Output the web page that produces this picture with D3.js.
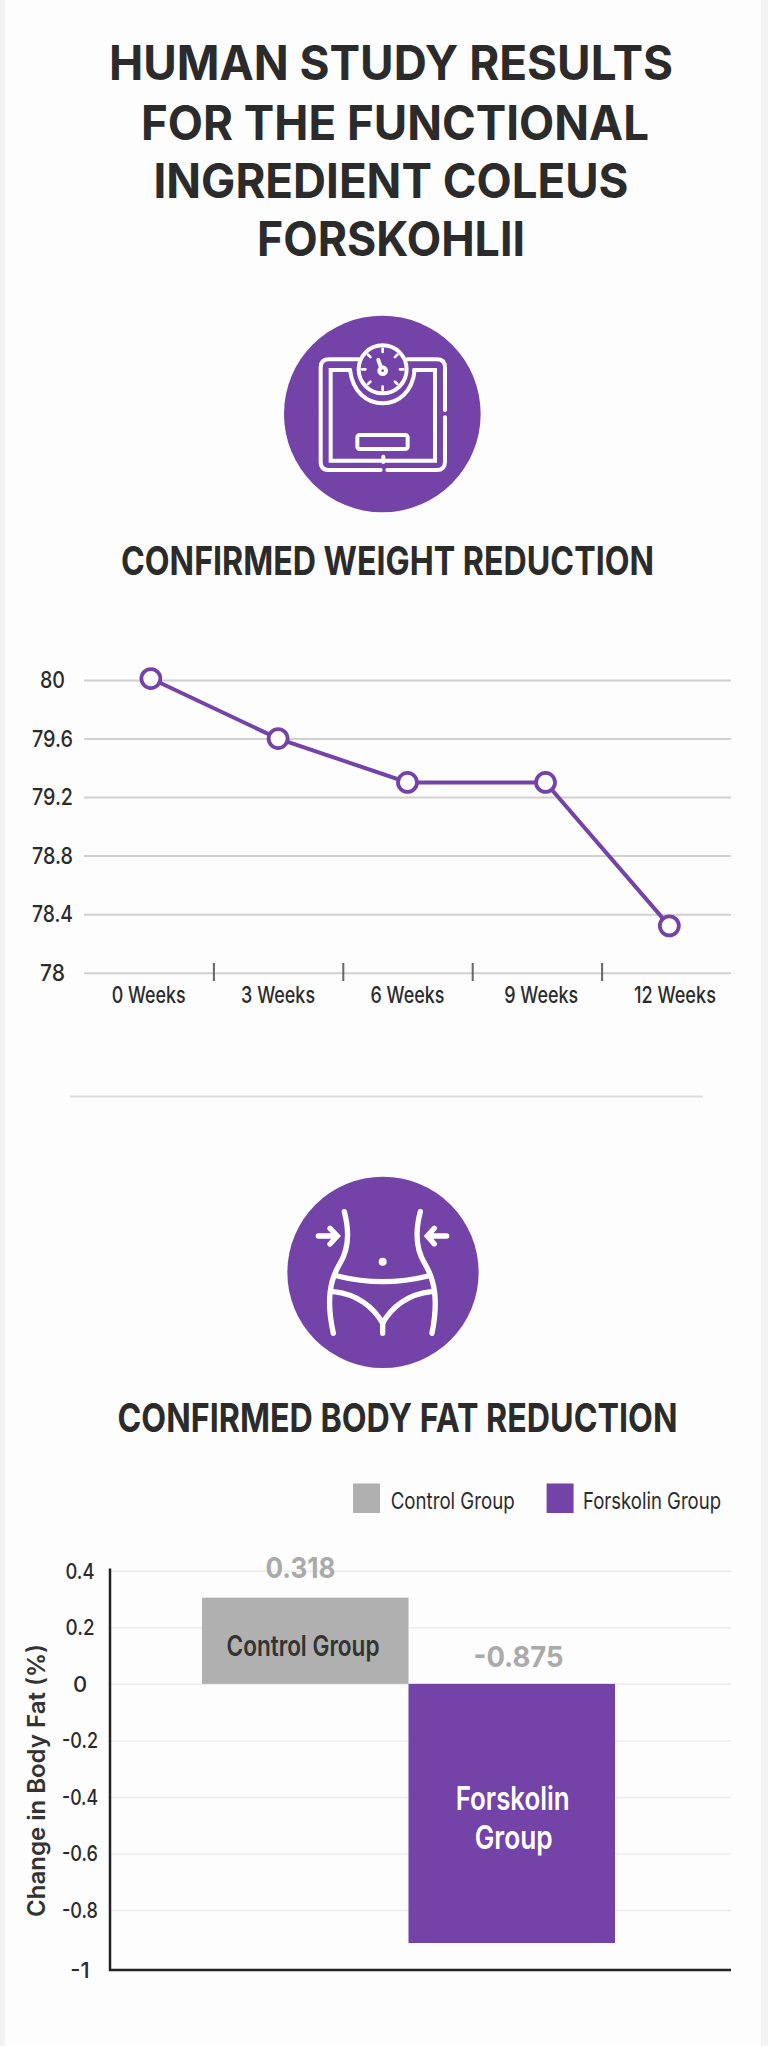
<!DOCTYPE html>
<html>
<head>
<meta charset="utf-8">
<title>Human study results</title>
<script src="https://cdn.jsdelivr.net/npm/d3@7"></script>
<style>
  html, body { margin: 0; padding: 0; background: #f3f3f3; }
  svg { display: block; font-family: Inter, "Noto Sans", sans-serif; }
</style>
</head>
<body>
<svg id="chart" width="768" height="2046"></svg>
<script>
const purple = "#7443a8";
const grey = "#b0b0b0";
const ink = "#2b2b2b";

// weight chart
const weekLabels = ["0 Weeks", "3 Weeks", "6 Weeks", "9 Weeks", "12 Weeks"];
const weekLabelPositions = [0, 3, 6, 9.1, 12.2];
const weekTicks = [1.5, 4.5, 7.5, 10.5];
const weekPoints = [0.05, 3, 6, 9.2, 12.07];
const weightValues = [80.01, 79.6, 79.3, 79.3, 78.32];
const weightTicks = [78, 78.4, 78.8, 79.2, 79.6, 80];

// body fat chart
const groups = ["Control Group", "Forskolin Group"];
const fatValues = [0.305, -0.91];
const fatLabels = ["0.318", "-0.875"];
const fatTicks = [-1, -0.8, -0.6, -0.4, -0.2, 0, 0.2, 0.4];
const groupColors = [grey, purple];

const titleLines = ["HUMAN STUDY RESULTS", "FOR THE FUNCTIONAL", "INGREDIENT COLEUS", "FORSKOHLII"];
const titleCenters = [391, 395, 391, 391];
const titleBaselines = [80, 140, 198, 256];
const titleWidths = [564, 508, 475, 268];

const svg = d3.select("#chart");

svg.append("rect")
  .attr("x", 5).attr("y", 0)
  .attr("width", 756).attr("height", 2046)
  .attr("fill", "#fdfdfd");

// text squeezed to a measured width, the picture's lettering is narrower than Inter
function label(parent, str, x, y, size, weight, color, width) {
  const t = parent.append("text")
    .attr("x", x).attr("y", y)
    .attr("text-anchor", "middle")
    .attr("font-size", size)
    .attr("font-weight", weight)
    .attr("fill", color)
    .text(str);
  if (width) t.attr("textLength", width).attr("lengthAdjust", "spacingAndGlyphs");
  return t;
}

titleLines.forEach((line, i) => {
  label(svg, line, titleCenters[i], titleBaselines[i], 48, 700, ink, titleWidths[i]);
});
label(svg, "CONFIRMED WEIGHT REDUCTION", 387.5, 575, 40, 700, ink, 533);
label(svg, "CONFIRMED BODY FAT REDUCTION", 397.5, 1431.5, 40, 700, ink, 560);

// scale icon, drawn in 3x crop units
const scaleIcon = svg.append("g").attr("transform", "translate(270,310) scale(0.3333)");
scaleIcon.append("circle").attr("cx", 337).attr("cy", 312).attr("r", 295).attr("fill", purple);
const scaleLines = scaleIcon.append("g")
  .attr("fill", "none").attr("stroke", "#fff").attr("stroke-width", 12).attr("stroke-linecap", "round");
scaleLines.append("path").attr("d", "M525,300 V172 Q525,148 500,148 H412 M266,148 H178 Q152,148 152,172 V455 Q152,480 178,480 H332 M352,480 H500 Q525,480 525,455 V322");
scaleLines.append("path").attr("d", "M240,180 H182 V452 H495 V180 H432");
scaleLines.append("path").attr("d", "M240,180 C248,245 290,280 338,280 C386,280 428,245 434,180");
scaleLines.append("circle").attr("cx", 338).attr("cy", 178).attr("r", 72);
scaleLines.append("circle").attr("cx", 338).attr("cy", 182).attr("r", 10);
scaleLines.append("path").attr("d", "M333,172 L325,150");
scaleLines.append("rect").attr("x", 262).attr("y", 375).attr("width", 151).attr("height", 42).attr("rx", 7);
scaleLines.append("path").attr("d", "M340,440 V456");
d3.range(8).forEach(i => {
  const a = i * Math.PI / 4;
  scaleLines.append("line")
    .attr("x1", 338 + 52 * Math.cos(a)).attr("y1", 178 + 52 * Math.sin(a))
    .attr("x2", 338 + 62 * Math.cos(a)).attr("y2", 178 + 62 * Math.sin(a))
    .attr("stroke-width", 8);
});

// weight line chart
const xWeek = d3.scaleLinear().domain([-1.5, 13.5]).range([84, 731]);
const yWeight = d3.scaleLinear().domain([78, 80]).range([972.7, 680]);

const weightGrid = svg.append("g")
  .attr("transform", "translate(84,0)")
  .call(d3.axisLeft(yWeight).tickValues(weightTicks).tickSize(-647).tickFormat(""));
weightGrid.select(".domain").remove();
weightGrid.selectAll("line").attr("stroke", "#d0d0d0").attr("stroke-width", 2);

weightTicks.forEach(v => {
  label(svg, v, 52.5, yWeight(v) + 8, 23, 500, ink, String(v).length > 2 ? 41 : 25);
});

const weekAxis = svg.append("g")
  .attr("transform", "translate(0,963)")
  .call(d3.axisBottom(xWeek).tickValues(weekTicks).tickSize(18).tickFormat(""));
weekAxis.select(".domain").remove();
weekAxis.selectAll("line").attr("stroke", "#666666").attr("stroke-width", 2);

weekLabels.forEach((w, i) => {
  label(svg, w, xWeek(weekLabelPositions[i]), 1003, 23, 500, ink, i == 4 ? 82 : 74);
});

const weightLine = d3.line()
  .x((d, i) => xWeek(weekPoints[i]))
  .y(d => yWeight(d));

svg.append("path")
  .datum(weightValues)
  .attr("d", weightLine)
  .attr("fill", "none")
  .attr("stroke", purple)
  .attr("stroke-width", 4);

svg.selectAll(".weight-point")
  .data(weightValues)
  .join("circle")
  .attr("class", "weight-point")
  .attr("cx", (d, i) => xWeek(weekPoints[i]))
  .attr("cy", d => yWeight(d))
  .attr("r", 9.5)
  .attr("fill", "#fff")
  .attr("stroke", purple)
  .attr("stroke-width", 3.8);

svg.append("line")
  .attr("x1", 70).attr("x2", 703)
  .attr("y1", 1096.5).attr("y2", 1096.5)
  .attr("stroke", "#dddddd").attr("stroke-width", 2);

// waist icon, drawn in 3x crop units
const waistIcon = svg.append("g").attr("transform", "translate(250,1150) scale(0.3333)");
waistIcon.append("circle").attr("cx", 399).attr("cy", 367).attr("r", 287).attr("fill", purple);
const waistLines = waistIcon.append("g")
  .attr("fill", "none").attr("stroke", "#fff").attr("stroke-width", 16).attr("stroke-linecap", "round");
waistLines.append("path").attr("d", "M283,185 C300,250 295,300 270,340 C240,390 228,450 250,550");
waistLines.append("path").attr("d", "M511,185 C494,250 499,300 524,340 C554,390 566,450 546,550");
waistLines.append("path").attr("d", "M262,378 Q398,412 535,378");
waistLines.append("path").attr("d", "M250,425 C320,432 370,470 398,520 C425,470 475,432 545,425");
waistLines.append("path").attr("d", "M398,520 V550");
waistLines.append("path").attr("d", "M205,258 H258 M240,235 L262,258 L240,282");
waistLines.append("path").attr("d", "M590,258 H535 M553,235 L532,258 L553,282");
waistIcon.append("circle").attr("cx", 398).attr("cy", 335).attr("r", 12).attr("fill", "#fff");

// legend
const legendSwatchX = [353, 546.6];
const legendTextX = [452.7, 652];
const legendTextW = [124, 138];
groups.forEach((g, i) => {
  svg.append("rect")
    .attr("x", legendSwatchX[i]).attr("y", 1483.5)
    .attr("width", 27).attr("height", 29.5)
    .attr("fill", groupColors[i]);
  label(svg, g, legendTextX[i], 1508.5, 23, 400, ink, legendTextW[i]);
});

// body fat bars, the gridlines are unevenly spaced near the bottom
const xGroup = d3.scaleBand().domain(groups).range([202, 615]);
const yFat = d3.scaleLinear().domain([-1, -0.8, 0.4]).range([1970, 1910, 1570.8]);

const fatGrid = svg.append("g")
  .attr("transform", "translate(110,0)")
  .call(d3.axisLeft(yFat).tickValues(fatTicks.slice(1)).tickSize(-621).tickFormat(""));
fatGrid.select(".domain").remove();
fatGrid.selectAll("line").attr("stroke", "#ececec").attr("stroke-width", 1.5);

fatTicks.forEach(v => {
  label(svg, v, 80, yFat(v) + 8, 22, 500, ink, String(v).length > 3 ? 36 : String(v).length > 2 ? 29 : null);
});

svg.selectAll(".fat-bar")
  .data(fatValues)
  .join("rect")
  .attr("class", "fat-bar")
  .attr("x", (d, i) => xGroup(groups[i]))
  .attr("y", d => yFat(Math.max(d, 0)))
  .attr("width", xGroup.bandwidth())
  .attr("height", d => Math.abs(yFat(d) - yFat(0)))
  .attr("fill", (d, i) => groupColors[i]);

svg.append("path")
  .attr("d", "M110,1568.5 V1970 H731")
  .attr("fill", "none")
  .attr("stroke", "#222222")
  .attr("stroke-width", 2.5);

label(svg, fatLabels[0], 300.5, 1578, 29, 700, "#aaaaaa", 70);
label(svg, fatLabels[1], 518.6, 1666.5, 29, 700, "#aaaaaa", 90);
label(svg, "Control Group", 303, 1656, 28, 600, "#333333", 153);
label(svg, "Forskolin", 512.7, 1809.5, 33, 600, "#ffffff", 114);
label(svg, "Group", 513.7, 1848.5, 33, 600, "#ffffff", 78);

label(svg, "Change in Body Fat (%)", 0, 0, 24, 600, "#333333", 273)
  .attr("transform", "translate(45,1780.5) rotate(-90)");
</script>
</body>
</html>
